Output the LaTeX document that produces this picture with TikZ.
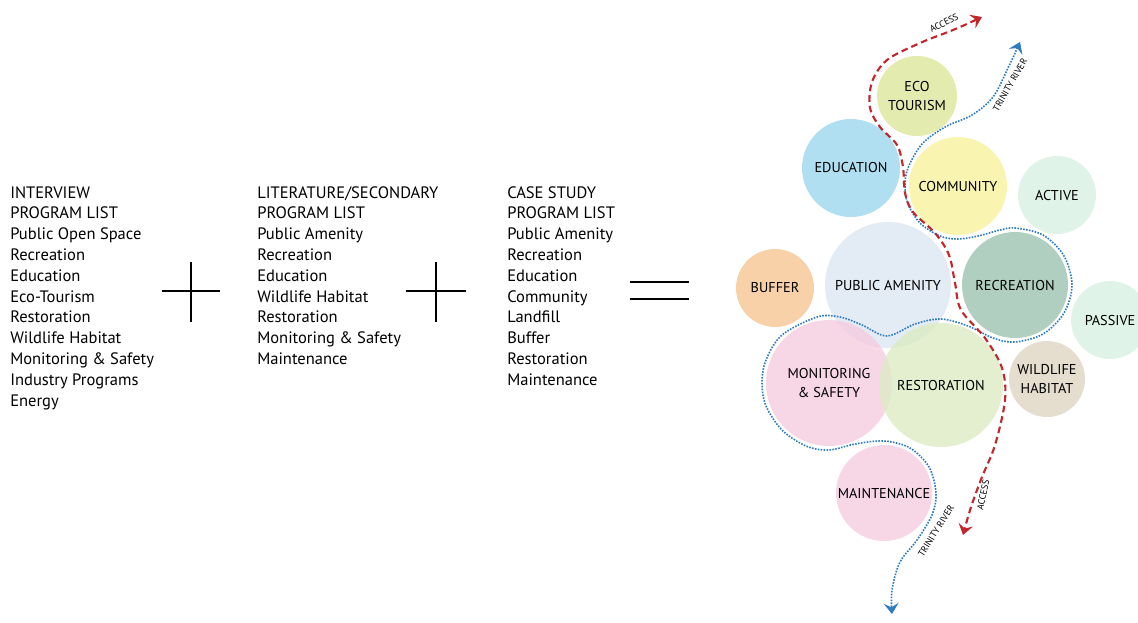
\documentclass[tikz,border=0pt]{standalone}
\usepackage{fontspec}
\setmainfont{PT Sans}
\usepackage{tikz}
\usetikzlibrary{arrows.meta}
\definecolor{ecocol}{HTML}{DDE69B}
\definecolor{educol}{HTML}{9DD7EF}
\definecolor{comcol}{HTML}{F7F39D}
\definecolor{actcol}{HTML}{D8F0E4}
\definecolor{pubcol}{HTML}{DCE6F3}
\definecolor{bufcol}{HTML}{F7C594}
\definecolor{reccol}{HTML}{9DC3B0}
\definecolor{moncol}{HTML}{F5CCE0}
\definecolor{rescol}{HTML}{DDEBC4}
\definecolor{wildcol}{HTML}{DED5C2}
\definecolor{rivercol}{HTML}{2D7BC0}
\definecolor{accesscol}{HTML}{C1272D}
\tikzset{
  listtext/.style={anchor=north west, align=left, inner sep=0pt,
    font=\fontsize{12.4}{15.6}\selectfont},
  bub/.style 2 args={circle, fill=#1, fill opacity=.8, text opacity=1,
    inner sep=0pt, minimum size=#2*1.5pt, align=center,
    font=\fontsize{10.7}{14}\selectfont},
  plus/.style={line width=1.5pt},
  equal/.style={line width=2.2pt},
  river/.style={rivercol, line width=1.2pt, densely dotted,
    {Stealth[length=8pt,width=11pt,inset=3pt]}-{Stealth[length=8pt,width=11pt,inset=3pt]}},
  access/.style={accesscol, line width=1.6pt, dash pattern=on 5pt off 3pt,
    {Stealth[length=8pt,width=11pt,inset=3pt]}-{Stealth[length=8pt,width=11pt,inset=3pt]}},
  pathlabel/.style={inner sep=0pt, font=\fontsize{7}{8}\selectfont}
}
\begin{document}
\begin{tikzpicture}[x=0.75pt,y=-0.75pt]
\useasboundingbox (0,0) rectangle (1138,622);
\node[listtext] (interview) at (10,186) {INTERVIEW\\PROGRAM LIST\\Public Open Space\\Recreation\\Education\\Eco-Tourism\\Restoration\\Wildlife Habitat\\Monitoring \& Safety\\Industry Programs\\Energy};
\node[listtext] (literature) at (257,186) {LITERATURE/SECONDARY\\PROGRAM LIST\\Public Amenity\\Recreation\\Education\\Wildlife Habitat\\Restoration\\Monitoring \& Safety\\Maintenance};
\node[listtext] (casestudy) at (507,186) {CASE STUDY\\PROGRAM LIST\\Public Amenity\\Recreation\\Education\\Community\\Landfill\\Buffer\\Restoration\\Maintenance};
\draw[plus] (162,291) -- (220,291) (191,262) -- (191,322);
\draw[plus] (406,291) -- (466,291) (436,262) -- (436,322);
\draw[equal] (630,282) -- (689,282) (630,299) -- (689,299);

\node[bub={pubcol}{63}] (amenity) at (888,285) {PUBLIC AMENITY};
\node[bub={ecocol}{40}] (eco) at (917,96) {ECO\\TOURISM};
\node[bub={educol}{49}] (education) at (851,168) {EDUCATION};
\node[bub={comcol}{49}] (community) at (958,186) {COMMUNITY};
\node[bub={actcol}{39}] (active) at (1057,195) {ACTIVE};
\node[bub={bufcol}{39}] (buffer) at (775,288) {BUFFER};
\node[bub={reccol}{53}] (recreation) at (1015,285) {RECREATION};
\node[bub={actcol}{39}] (passive) at (1110,320) {PASSIVE};
\node[bub={moncol}{63}] (monitoring) at (829,383) {MONITORING\\\& SAFETY};
\node[bub={rescol}{62}] (restoration) at (941,385) {RESTORATION};
\node[bub={wildcol}{38}] (wildlife) at (1047,379) {WILDLIFE\\HABITAT};
\node[bub={moncol}{48}] (maintenance) at (884,493) {MAINTENANCE};

\draw[river] plot[smooth, tension=0.55] coordinates {(1020,42) (1008,68) (993,97) (972,115) (945,127) (922,144) (908,168) (905,186) (908,204) (920,223) (940,236) (958,239) (978,236) (1000,230) (1015,228) (1043,235) (1064,256) (1072,285) (1064,313) (1043,334) (1015,342) (993,338) (968,326) (941,319) (915,324) (887,336) (862,325) (840,317) (817,317) (782,335) (766,360) (762,383) (766,406) (782,430) (806,446) (829,450) (855,444) (884,441) (910,448) (929,467) (936,493) (932,515) (917,540) (900,562) (892,590) (892,614)};
\draw[access] plot[smooth, tension=0.55] coordinates {(982,17) (953,30) (920,43) (887,60) (872,82) (870,108) (880,127) (897,145) (903,167) (905,193) (913,212) (935,233) (949,255) (955,283) (961,310) (985,338) (1002,368) (1005,400) (995,445) (982,477) (971,507) (963,535)};

\node[pathlabel, rotate=27] (accessN) at (944,23) {ACCESS};
\node[pathlabel, rotate=60] (riverN) at (1010,85) {TRINITY RIVER};
\node[pathlabel, rotate=58] (riverS) at (936,531) {TRINITY RIVER};
\node[pathlabel, rotate=78] (accessS) at (983,495) {ACCESS};
\end{tikzpicture}
\end{document}
